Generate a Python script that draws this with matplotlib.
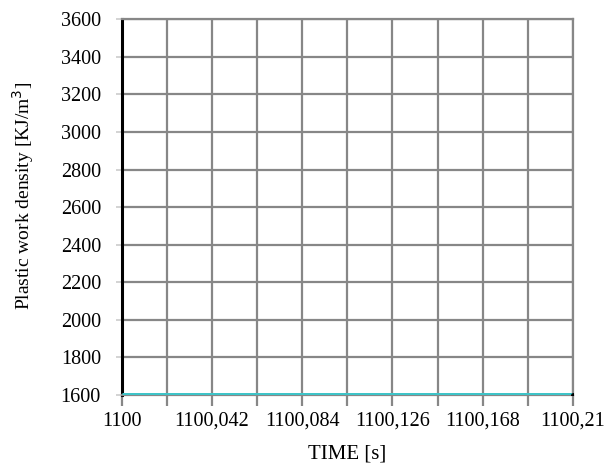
import numpy as np
import matplotlib
matplotlib.use("Agg")
import matplotlib.pyplot as plt
from matplotlib.ticker import FixedLocator, FuncFormatter

# time samples and plastic work density (constant over the window)
time_s = [1100.0, 1100.042, 1100.084, 1100.126, 1100.168, 1100.21]
work_density = [1600, 1600, 1600, 1600, 1600, 1600]

x_major = [1100.0, 1100.042, 1100.084, 1100.126, 1100.168, 1100.21]
x_minor = [1100.021, 1100.063, 1100.105, 1100.147, 1100.189]
y_ticks = [1600, 1800, 2000, 2200, 2400, 2600, 2800, 3000, 3200, 3400, 3600]

plt.rcParams['font.family'] = ['Liberation Serif', 'DejaVu Serif']

fig = plt.figure(figsize=(6.12, 4.67), dpi=100)
ax = fig.add_axes([0.199, 0.154, 0.737, 0.805])

grid_col = '#878787'
ax.plot(time_s, work_density, color='#3ec4c8', lw=3.6, zorder=3, solid_capstyle='butt')
ax.plot(time_s[-1], work_density[-1], 'o', color='black', ms=2.5, zorder=4)

ax.set_xlim(1100.0, 1100.21)
ax.set_ylim(1600, 3600)

ax.xaxis.set_major_locator(FixedLocator(x_major))
ax.xaxis.set_minor_locator(FixedLocator(x_minor))
ax.yaxis.set_major_locator(FixedLocator(y_ticks))

def comma_fmt(v, pos):
    s = ('%.3f' % v).rstrip('0').rstrip('.')
    return s.replace('.', ',')

ax.xaxis.set_major_formatter(FuncFormatter(comma_fmt))

ax.grid(True, which='both', axis='x', color=grid_col, lw=1.6)
ax.grid(True, which='major', axis='y', color=grid_col, lw=1.6)
ax.set_axisbelow(True)

ax.tick_params(axis='x', which='both', direction='out', length=8, width=1.6,
               color=grid_col, labelsize=14.5, pad=4)
ax.tick_params(axis='x', which='minor', labelbottom=False)
ax.tick_params(axis='y', direction='out', length=4, width=1.2, color='#cccccc',
               labelsize=14.5, pad=11)

for side in ['top', 'right']:
    ax.spines[side].set_color(grid_col)
    ax.spines[side].set_linewidth(1.6)
ax.spines['bottom'].set_color(grid_col)
ax.spines['bottom'].set_linewidth(1.6)
ax.spines['left'].set_color('black')
ax.spines['left'].set_linewidth(2.2)

ax.set_xlabel('TIME [s]', fontsize=15, labelpad=10)
ax.set_ylabel('Plastic work density [KJ/m$^3$]', fontsize=14, labelpad=18)
ax.yaxis.label.set_y(0.53)

fig.savefig('out.png', dpi=100)
